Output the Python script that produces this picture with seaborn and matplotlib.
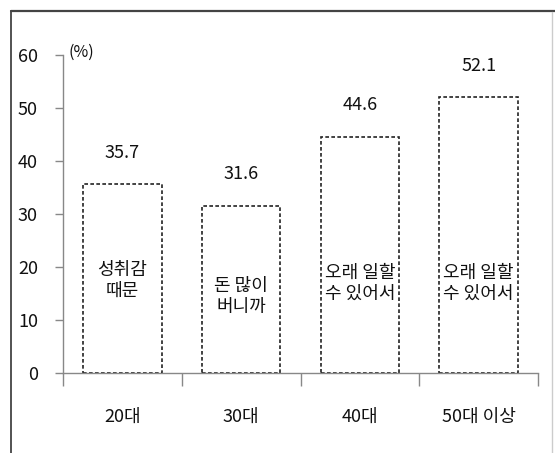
import matplotlib
matplotlib.use("Agg")
import matplotlib.pyplot as plt
import seaborn as sns
import pandas as pd
from matplotlib.lines import Line2D

# Data
age_groups = ["20대", "30대", "40대", "50대 이상"]
shares = [35.7, 31.6, 44.6, 52.1]
reasons = ["성취감\n때문", "돈 많이\n버니까", "오래 일할\n수 있어서", "오래 일할\n수 있어서"]
y_ticks = [0, 10, 20, 30, 40, 50, 60]

# Vertical placement of the reason text inside each bar (data units)
note_y = [17.5, 14.5, 17.0, 17.0]

sns.set_theme(style="white")
plt.rcParams["font.family"] = ["Noto Sans CJK KR", "DejaVu Sans"]

FS = 13
FW = "medium"
TXT = "#111111"

df = pd.DataFrame({"age": age_groups, "share": shares})

fig = plt.figure(figsize=(5.55, 4.53), dpi=100)
ax = fig.add_axes([0.1135, 0.1766, 0.8559, 0.702])

sns.barplot(data=df, x="age", y="share", order=age_groups, ax=ax,
            color="white", edgecolor="#222222", linewidth=1.2,
            width=0.66, saturation=1)
for p in ax.patches:
    p.set_linestyle((0, (2.2, 1.4)))
    p.set_facecolor("white")

ax.bar_label(ax.containers[0], labels=[f"{v:.1f}" for v in shares],
             padding=16, fontsize=FS, fontweight=FW, color=TXT)

for i, (txt, yy) in enumerate(zip(reasons, note_y)):
    ax.text(i, yy, txt, ha="center", va="center", fontsize=FS,
            fontweight=FW, color=TXT, linespacing=1.2)

ax.set_xlim(-0.5, 3.5)
ax.set_ylim(0, 60)
ax.set_yticks(y_ticks)
ax.set_yticklabels([str(t) for t in y_ticks], fontsize=FS, fontweight=FW,
                   color=TXT)
ax.set_xlabel("")
ax.set_ylabel("")

# category labels centered, tick marks at category boundaries
ax.set_xticks(range(len(age_groups)))
ax.set_xticklabels(age_groups, fontsize=FS, fontweight=FW, color=TXT)
ax.set_xticks([-0.5, 0.5, 1.5, 2.5, 3.5], minor=True)
ax.tick_params(axis="x", which="major", length=0, pad=25)
ax.tick_params(axis="x", which="minor", length=9, width=1, color="#888888",
               direction="out", bottom=True)
ax.tick_params(axis="y", which="major", length=6, width=1, color="#888888",
               direction="out", left=True, pad=12)

for side in ("top", "right"):
    ax.spines[side].set_visible(False)
for side in ("left", "bottom"):
    ax.spines[side].set_color("#888888")
    ax.spines[side].set_linewidth(1.0)

ax.text(0.012, 60.5, "(%)", transform=ax.get_yaxis_transform(),
        ha="left", va="center", fontsize=11.5, fontweight=FW, color=TXT)

# Outer frame
W, H = 555, 453
def fx(px):
    return px / W
def fy(py):
    return 1 - py / H
fig.add_artist(Line2D([fx(11), fx(555)], [fy(11), fy(11)], color="#444444", lw=1.6))
fig.add_artist(Line2D([fx(11), fx(11)], [fy(11), fy(453)], color="#444444", lw=1.3))
fig.add_artist(Line2D([fx(552), fx(552)], [fy(12), fy(453)], color="#cccccc", lw=1.0))

fig.savefig("out.png", dpi=100)
